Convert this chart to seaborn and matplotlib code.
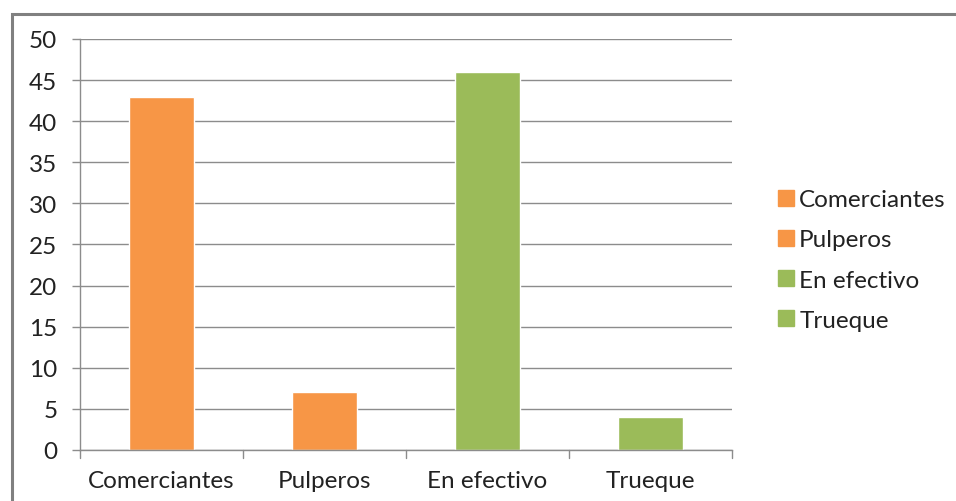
import matplotlib
matplotlib.use("Agg")
import matplotlib.pyplot as plt
import seaborn as sns
import pandas as pd
from matplotlib.lines import Line2D
from matplotlib.patches import Rectangle

categories = ["Comerciantes", "Pulperos", "En efectivo", "Trueque"]
values = [43, 7, 46, 4]
colors = ["#F79646", "#F79646", "#9BBB59", "#9BBB59"]
yticks = [0, 5, 10, 15, 20, 25, 30, 35, 40, 45, 50]

sns.set_theme(style="white")
plt.rcParams["font.family"] = ["Lato", "DejaVu Sans"]

df = pd.DataFrame({"cat": categories, "val": values})

W, H = 956, 502
FS = 17.5
fig = plt.figure(figsize=(W / 100, H / 100), dpi=100)
ax = fig.add_axes([80 / W, 1 - 451 / H, (732 - 80) / W, (451 - 40) / H])

sns.barplot(data=df, x="cat", y="val", hue="cat", palette=colors, width=0.4,
            legend=False, ax=ax, saturation=1)

ax.set_ylim(0, 50)
ax.set_xlim(-0.5, 3.5)
ax.set_yticks(yticks)
ax.set_yticklabels([str(t) for t in yticks], fontsize=FS, color="#222222")
ax.set_xticks(range(len(categories)))
ax.set_xticklabels(categories, fontsize=FS, color="#222222")
ax.set_xlabel("")
ax.set_ylabel("")
ax.yaxis.grid(True, color="#8c8c8c", linewidth=1)
ax.set_axisbelow(True)
for s in ["top", "right"]:
    ax.spines[s].set_visible(False)
for s in ["left", "bottom"]:
    ax.spines[s].set_color("#8c8c8c")
    ax.spines[s].set_linewidth(1)
ax.tick_params(axis="y", length=5.8, width=1, color="#8c8c8c", pad=10.5, direction="out", left=True)
ax.tick_params(axis="x", length=0, pad=14.5, bottom=False)
# category boundary ticks on x axis
for b in [-0.5, 0.5, 1.5, 2.5, 3.5]:
    ax.plot([b, b], [0, -0.02], transform=ax.get_xaxis_transform(), color="#8c8c8c",
            linewidth=1, clip_on=False)

handles = [Line2D([0], [0], marker="s", linestyle="", markersize=11,
                  markerfacecolor=c, markeredgecolor=c) for c in colors]
fig.legend(handles, categories, loc="center left", bbox_to_anchor=(764 / W, 1 - 261 / H),
           frameon=False, fontsize=FS, labelspacing=0.79, handletextpad=0.05,
           handlelength=1.0, labelcolor="#222222", borderaxespad=0)

# outer frame (partially visible)
fig.add_artist(Rectangle((12 / W, -0.05), 1.1, 1 - 14.5 / H + 0.05, transform=fig.transFigure,
                         fill=False, edgecolor="#808080", linewidth=2.2, clip_on=False))

fig.savefig("out.png", dpi=100)
